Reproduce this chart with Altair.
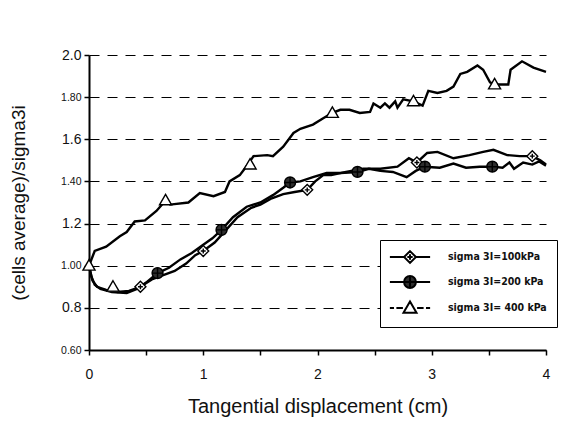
import altair as alt
import pandas as pd

# ---------------- data ----------------
S100 = "sigma 3I=100kPa"
S200 = "sigma 3I=200 kPa"
S400 = "sigma 3I= 400 kPa"
series_order = [S100, S200, S400]

x_100 = [0, 0.03, 0.07, 0.15, 0.25, 0.35, 0.45, 0.55, 0.65, 0.75, 0.85, 0.93, 1.0, 1.1, 1.2, 1.3,
         1.42, 1.5, 1.6, 1.7, 1.8, 1.91, 1.98, 2.05, 2.12, 2.25, 2.4, 2.55, 2.7, 2.8, 2.87, 2.96,
         3.05, 3.19, 3.33, 3.45, 3.54, 3.66, 3.77, 3.88, 3.95, 4.0]
y_100 = [1.0, 0.93, 0.90, 0.885, 0.875, 0.88, 0.90, 0.935, 0.955, 0.975, 1.01, 1.05, 1.07, 1.11, 1.17, 1.23,
         1.275, 1.29, 1.32, 1.34, 1.35, 1.36, 1.40, 1.43, 1.43, 1.445, 1.46, 1.46, 1.47, 1.51, 1.49, 1.535,
         1.54, 1.51, 1.525, 1.54, 1.55, 1.525, 1.52, 1.52, 1.50, 1.48]

x_200 = [0, 0.02, 0.05, 0.1, 0.2, 0.33, 0.42, 0.5, 0.6, 0.7, 0.8, 0.9, 1.0, 1.08, 1.16, 1.26, 1.38,
         1.5, 1.61, 1.7, 1.76, 1.85, 1.96, 2.08, 2.2, 2.35, 2.45, 2.55, 2.66, 2.78, 2.86, 2.94, 3.07,
         3.19, 3.3, 3.42, 3.53, 3.62, 3.68, 3.72, 3.8, 3.88, 3.94, 4.0]
y_200 = [1.0, 0.95, 0.91, 0.89, 0.875, 0.87, 0.89, 0.92, 0.965, 0.99, 1.03, 1.06, 1.10, 1.13, 1.17, 1.23, 1.28,
         1.30, 1.335, 1.37, 1.395, 1.40, 1.42, 1.44, 1.44, 1.445, 1.46, 1.45, 1.445, 1.42, 1.45, 1.47, 1.465,
         1.485, 1.465, 1.47, 1.47, 1.465, 1.49, 1.46, 1.49, 1.48, 1.495, 1.475]

x_400 = [0, 0.05, 0.15, 0.27, 0.33, 0.4, 0.49, 0.59, 0.67, 0.71, 0.87, 0.97, 1.09, 1.19, 1.23, 1.32,
         1.39, 1.44, 1.56, 1.61, 1.70, 1.79, 1.85, 1.96, 2.05, 2.13, 2.2, 2.28, 2.37, 2.46, 2.49, 2.55,
         2.59, 2.63, 2.68, 2.7, 2.75, 2.84, 2.92, 2.97, 3.05, 3.13, 3.19, 3.25, 3.31, 3.40, 3.45, 3.51,
         3.55, 3.67, 3.69, 3.79, 3.89, 4.0]
y_400 = [1.0, 1.07, 1.09, 1.14, 1.16, 1.21, 1.215, 1.26, 1.31, 1.29, 1.30, 1.345, 1.33, 1.35, 1.40, 1.43,
         1.48, 1.52, 1.525, 1.52, 1.565, 1.63, 1.65, 1.67, 1.70, 1.725, 1.74, 1.74, 1.725, 1.73, 1.77, 1.75,
         1.77, 1.75, 1.78, 1.75, 1.79, 1.78, 1.76, 1.83, 1.82, 1.83, 1.85, 1.91, 1.92, 1.95, 1.93, 1.87,
         1.86, 1.86, 1.93, 1.97, 1.94, 1.92]

# marker positions
mx_100 = [0.45, 1.0, 1.91, 2.87, 3.88]
my_100 = [0.90, 1.07, 1.36, 1.49, 1.52]
mx_200 = [0.6, 1.16, 1.76, 2.35, 2.94, 3.53]
my_200 = [0.965, 1.17, 1.395, 1.445, 1.47, 1.47]
mx_400 = [0, 0.21, 0.67, 1.41, 2.13, 2.84, 3.55]
my_400 = [1.0, 0.90, 1.31, 1.48, 1.725, 1.78, 1.86]

y_ticks = [0.6, 0.8, 1.0, 1.2, 1.4, 1.6, 1.8, 2.0]
y_tick_labels = ["0.60", "0.8", "1.00", "1.2", "1.40", "1.6", "1.80", "2.0"]
x_ticks = [0, 0.25, 0.5, 0.75, 1, 1.25, 1.5, 1.75, 2, 2.25, 2.5, 2.75, 3, 3.25, 3.5, 3.75, 4]

# ---------------- tables ----------------
rows = []
for lab, xs_, ys_ in [(S100, x_100, y_100), (S200, x_200, y_200), (S400, x_400, y_400)]:
    for i, (a, b) in enumerate(zip(xs_, ys_)):
        rows.append({"series": lab, "x": a, "y": b, "i": i})
lines_df = pd.DataFrame(rows)

mrows = []
for lab, xs_, ys_ in [(S100, mx_100, my_100), (S200, mx_200, my_200), (S400, mx_400, my_400)]:
    for a, b in zip(xs_, ys_):
        mrows.append({"series": lab, "x": a, "y": b})
marks_df = pd.DataFrame(mrows)

# ---------------- symbols ----------------
diamond = "M0,-1L1,0L0,1L-1,0Z M-0.45,0H0.45 M0,-0.45V0.45"
circle = "M-1,0A1,1 0 1,0 1,0A1,1 0 1,0 -1,0Z M-1,0H1 M0,-1V1"
triangle = "M0,-1.1L1.1,0.8L-1.1,0.8Z"
solid = "M-3.4,0H-1 M1,0H3.4 "
dashed = "M-3.4,0H-2.7 M-2.3,0H-1.2 M1.2,0H2.3 M2.7,0H3.4 "

fills = ["white", "#2e2e2e", "white"]

y_expr = ""
for v, lab in zip(y_ticks, y_tick_labels):
    y_expr += f"abs(datum.value-{v})<0.001 ? '{lab}' : "
y_expr += "''"
big_test = " || ".join(f"abs(datum.value-{v})<0.001" for v, lab in zip(y_ticks, y_tick_labels) if len(lab) == 3)

FONT = "Liberation Sans"
LEG_FONT = "'DejaVu Sans Condensed', 'Liberation Sans', sans-serif"

xs = alt.Scale(domain=[0, 4], nice=False)
ys = alt.Scale(domain=[0.6, 2.0], nice=False, zero=False)

x_axis = alt.Axis(values=x_ticks, labelExpr="datum.value % 1 == 0 ? format(datum.value, 'd') : ''",
                  grid=False, title="Tangential displacement (cm)", titleFontSize=20, titleFont=FONT,
                  titleFontWeight="normal", titleColor="#111", titlePadding=15,
                  labelFontSize=14, labelFont=FONT, labelColor="#111", labelPadding=12,
                  tickSize=5, tickColor="black", tickWidth=1.5, domainColor="black", domainWidth=2,
                  labelFlush=False)
y_axis = alt.Axis(values=y_ticks, labelExpr=y_expr, grid=True, gridDash=[10, 8], gridColor="black",
                  gridWidth=1.2, title="(cells average)/sigma3i", titleFontSize=19, titleFont=FONT,
                  titleFontWeight="normal", titleColor="#111", titlePadding=32,
                  labelFontSize={"condition": {"test": big_test, "value": 14}, "value": 10.5},
                  labelFont=FONT, labelColor="#111", labelPadding=3, tickSize=5, tickColor="black",
                  tickWidth=1.5, domainColor="black", domainWidth=2)

base_lines = alt.Chart(lines_df).mark_line(color="black", strokeWidth=2.4).encode(
    x=alt.X("x:Q", scale=xs, axis=x_axis),
    y=alt.Y("y:Q", scale=ys, axis=y_axis),
    detail="series:N",
    order="i:Q",
)

markers = alt.Chart(marks_df).mark_point(filled=True, stroke="black", strokeWidth=1.4, size=120, opacity=1).encode(
    x=alt.X("x:Q", scale=xs),
    y=alt.Y("y:Q", scale=ys),
    shape=alt.Shape("series:N", scale=alt.Scale(domain=series_order, range=[diamond, circle, triangle]), legend=None),
    fill=alt.Fill("series:N", scale=alt.Scale(domain=series_order, range=fills), legend=None),
)

legend_layer = alt.Chart(marks_df).mark_point(filled=True, strokeWidth=1.5, size=0, opacity=1).encode(
    x=alt.X("x:Q", scale=xs),
    y=alt.Y("y:Q", scale=ys),
    shape=alt.Shape("series:N", scale=alt.Scale(domain=series_order,
                    range=[solid + diamond, solid + circle, dashed + triangle]),
                    legend=alt.Legend(title=None, orient="none", legendX=291, legendY=185,
                                      strokeColor="black", fillColor="white", padding=10,
                                      symbolSize=140, symbolStrokeWidth=2, symbolOpacity=1,
                                      labelFont=LEG_FONT,
                                      labelFontWeight="bold", labelFontSize=10.5, labelColor="#111",
                                      labelOffset=31, rowPadding=5, offset=0, symbolOffset=13)),
    fill=alt.Fill("series:N", scale=alt.Scale(domain=series_order, range=fills), legend=None),
    stroke=alt.Stroke("series:N", scale=alt.Scale(domain=series_order, range=["black", "black", "black"]),
                      legend=None),
)

chart = alt.layer(base_lines, markers, legend_layer).resolve_scale(
    shape="independent", fill="independent", stroke="independent"
).properties(
    width=457, height=295,
    autosize=alt.AutoSizeParams(type="none"),
    padding={"left": 89, "top": 55, "right": 20, "bottom": 71},
    background="white",
).configure_view(stroke=None)

chart.save("out.html", embed_options={"renderer": "svg", "actions": False})
